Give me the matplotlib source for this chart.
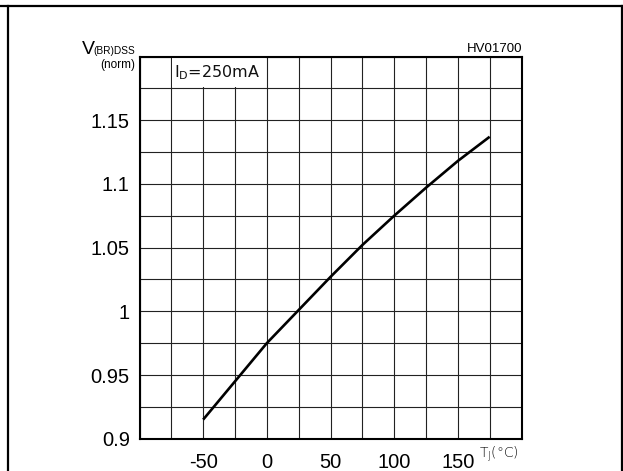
"""V(BR)DSS (normalised) vs junction temperature, datasheet style."""
import matplotlib
matplotlib.use("Agg")
import matplotlib.pyplot as plt
from matplotlib.lines import Line2D
from matplotlib.patches import Rectangle
import numpy as np

plt.rcParams["font.family"] = ["Liberation Sans", "DejaVu Sans"]

# data
temp_c = [-50, -25, 0, 25, 50, 75, 100, 125, 150, 175]
v_norm = [0.915, 0.945, 0.975, 1.001, 1.027, 1.052, 1.075, 1.097, 1.118, 1.137]

x_ticks = [-50, 0, 50, 100, 150]
y_ticks = [0.9, 0.95, 1.0, 1.05, 1.1, 1.15]
y_tick_labels = ["0.9", "0.95", "1", "1.05", "1.1", "1.15"]

W, H = 623, 471
fig = plt.figure(figsize=(W / 100, H / 100), dpi=100)
ax = fig.add_axes([139.5 / W, 1 - 438.7 / H, (521.5 - 139.5) / W, (438.7 - 56.5) / H])

ax.plot(temp_c, v_norm, color="black", lw=1.9, solid_capstyle="butt",
        solid_joinstyle="round", zorder=3)

ax.set_xlim(-100, 200)
ax.set_ylim(0.9, 1.2)
ax.set_xticks(np.arange(-100, 201, 25), minor=True)
ax.set_yticks(np.arange(0.9, 1.2001, 0.025), minor=True)
ax.set_xticks(x_ticks)
ax.set_xticklabels([str(t) for t in x_ticks])
ax.set_yticks(y_ticks)
ax.set_yticklabels(y_tick_labels)
ax.grid(True, which="both", color="#222222", lw=0.8)
ax.tick_params(which="both", length=0, labelsize=14.5)
ax.tick_params(axis="x", pad=10)
ax.tick_params(axis="y", pad=7)
for s in ax.spines.values():
    s.set_linewidth(1.5)

# cleared cell for the test condition
ax.add_patch(Rectangle((-74.2, 1.1758), 73.4, 0.0234, facecolor="white",
                       edgecolor="none", zorder=2))
ax.text(-73, 1.1875, "I$_\\mathregular{D}$=250mA", fontsize=11.5, va="center",
        ha="left", family=["DejaVu Sans"], color="#111111", zorder=4)

fig.text(95 / W, 1 - 54 / H, "V", fontsize=14, ha="right", va="baseline")
fig.text(135 / W, 1 - 54 / H, "(BR)DSS", fontsize=7.3, ha="right", va="baseline")
fig.text(135 / W, 1 - 68 / H, "(norm)", fontsize=8.5, ha="right", va="baseline")
fig.text(522 / W, 1 - 52 / H, "HV01700", fontsize=9.5, ha="right", va="baseline")
fig.text(479 / W, 1 - 458 / H, "T$_\\mathregular{J}$(°C)", fontsize=10,
         ha="left", va="baseline", family=["DejaVu Sans"], fontweight="light")

# frame around the whole figure
fig.add_artist(Line2D([0, 1], [1 - 6 / H, 1 - 6 / H], color="black", lw=1.6))
fig.add_artist(Line2D([7.5 / W, 7.5 / W], [0, 1 - 6 / H], color="black", lw=1.6))
fig.add_artist(Line2D([621.5 / W, 621.5 / W], [0, 1 - 6 / H], color="black", lw=1.6))

fig.savefig("out.png", dpi=100)
